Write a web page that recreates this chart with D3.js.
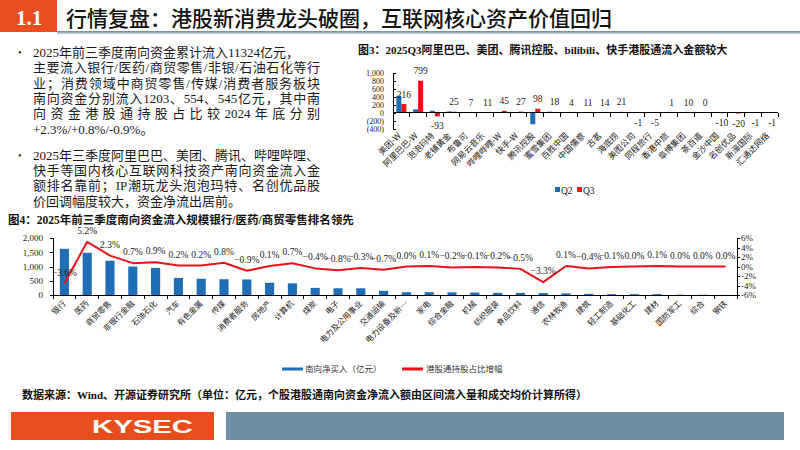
<!DOCTYPE html>
<html>
<head>
<meta charset="utf-8">
<script src="https://cdn.jsdelivr.net/npm/d3@7"></script>
<style>
	body { margin: 0; background: #fff; }
	svg text { font-family: "Liberation Serif", "Noto Sans CJK SC", serif; }
	.cjk { font-family: "Noto Sans CJK SC", sans-serif; }
	.axis path, .axis line { stroke: #000; shape-rendering: crispEdges; }
	.axis text { fill: #222; font-size: 9px; font-family: "Liberation Serif", serif; }
</style>
</head>
<body>
<svg id="slide" width="800" height="450"></svg>
<script>
/* Slide: southbound flows, figure 3 (Q2/Q3 stocks) and figure 4 (industries) */

// ---- figure 3 data ----
var fig3Cats = ["美团-W","阿里巴巴-W","泡泡玛特","老铺黄金","布鲁可","网易云音乐","哔哩哔哩-W","快手-W",
	"腾讯控股","蜜雪集团","百胜中国","中国儒意","古茗","海底捞","美图公司","同程旅行","香港中旅",
	"阜博集团","茶百道","金沙中国","名创优品","新濠国际","汇通达网络"];
var fig3Q2 = [425, 85, 50, 30, 15, 10, 5, 3, -290, 25, 15, 5, 3, 3, 3, 2, 2, 5, 5, 3, 0, 0, 0];
var fig3Q3 = [216, 799, -93, 25, 7, 11, 45, 27, 98, 18, 4, 11, 14, 21, -1, -5, 1, 10, 0, -10, -20, -1, -1];
var fig3Ticks = [-400, -200, 0, 200, 400, 600, 800, 1000];
var fig3Series = ["Q2", "Q3"];

// ---- figure 4 data ----
var fig4Cats = ["银行","医药","商贸零售","非银行金融","石油石化","汽车","有色金属","传媒","消费者服务",
	"房地产","计算机","煤炭","电子","电力及公用事业","交通运输","电力设备及新…","家电","综合金融","机械",
	"纺织服装","食品饮料","通信","农林牧渔","建筑","轻工制造","基础化工","建材","国防军工","综合","钢铁"];
var fig4Flow = [1620, 1480, 1203, 1000, 950, 600, 570, 554, 545, 430, 410, 250, 235, 235, 150,
	100, 100, 95, 85, 75, 75, 70, 55, 40, 30, 30, 30, 10, 8, 3];
var fig4Share = [-3.6, 5.2, 2.3, 0.7, 0.9, 0.2, 0.2, 0.8, -0.9, 0.1, 0.7, -0.4, -0.8, -0.3, -0.7,
	0.0, 0.1, -0.2, -0.1, -0.2, -0.5, -3.3, 0.1, -0.4, -0.1, 0.0, 0.1, 0.0, 0.0, 0.0];
var fig4LeftTicks = [0, 500, 1000, 1500, 2000];
var fig4RightTicks = [-6, -4, -2, 0, 2, 4, 6];

// ---- texts ----
var headerTitle = "行情复盘：港股新消费龙头破圈，互联网核心资产价值回归";
var para1 = ["2025年前三季度南向资金累计流入11324亿元，",
	"主要流入银行/医药/商贸零售/非银/石油石化等行",
	"业；消费领域中商贸零售/传媒/消费者服务板块",
	"南向资金分别流入1203、554、545亿元，其中南",
	"向资金港股通持股占比较2024年底分别",
	"+2.3%/+0.8%/-0.9%。"];
var para2 = ["2025年三季度阿里巴巴、美团、腾讯、哔哩哔哩、",
	"快手等国内核心互联网科技资产南向资金流入金",
	"额排名靠前；IP潮玩龙头泡泡玛特、名创优品股",
	"价回调幅度较大，资金净流出居前。"];

var blue = "#1f6eb6", red = "#e8141c", orange = "#e84e1b";

var svg = d3.select("#slide");

// gradient for header rule
var defs = svg.append("defs");
var grad = defs.append("linearGradient").attr("id", "rule").attr("x1", 0).attr("y1", 0).attr("x2", 0).attr("y2", 1);
grad.append("stop").attr("offset", "0%").attr("stop-color", "#6d8595");
grad.append("stop").attr("offset", "100%").attr("stop-color", "#cfd8de");

// ---- header ----
svg.append("rect").attr("x", 0).attr("y", 0).attr("width", 57).attr("height", 32).attr("fill", orange);
svg.append("text").attr("x", 29).attr("y", 25).attr("text-anchor", "middle")
	.attr("fill", "#fff").attr("font-size", 21).attr("font-weight", "bold").text("1.1");
svg.append("text").attr("class", "cjk").attr("x", 66).attr("y", 25.5)
	.attr("font-size", 21).attr("font-weight", 500).attr("fill", "#111").text(headerTitle);
svg.append("rect").attr("x", 57).attr("y", 31).attr("width", 743).attr("height", 3).attr("fill", "url(#rule)");

// Spread the tokens of one line evenly over the given width
function justifyLine(t, left, width) {
	var tokens = t.text().match(/[0-9A-Za-z.%+\-]+|[\s\S]/g);
	t.text(null);
	var spans = tokens.map(function(tok) { return t.append("tspan").text(tok); });
	var widths = spans.map(function(s) { return s.node().getComputedTextLength(); });
	var gap = (width - d3.sum(widths)) / (tokens.length - 1);
	var xPos = left;
	spans.forEach(function(s, i) {
		s.attr("x", xPos);
		xPos += widths[i] + gap;
	});
}

// ---- bullet paragraphs ----
function drawPara(lines, y0, step) {
	svg.append("text").attr("x", 18).attr("y", y0 - 1).attr("font-size", 10).attr("fill", "#222").text("•");
	lines.forEach(function(line, i) {
		var t = svg.append("text")
			.attr("x", 33)
			.attr("y", y0 + i * step)
			.attr("font-size", 13)
			.attr("fill", "#1a1a1a")
			.text(line);
		// justify every line but the first and the last
		if (i > 0 && i < lines.length - 1) {
			justifyLine(t, 33, 287);
		}
	});
}
drawPara(para1, 56.6, 15.45);
drawPara(para2, 160, 15.2);

// ================= figure 3 =================
svg.append("text").attr("x", 358).attr("y", 54.2).attr("font-size", 11).attr("font-weight", "bold")
	.attr("fill", "#111").text("图3：2025Q3阿里巴巴、美团、腾讯控股、bilibili、快手港股通流入金额较大");

var x3 = d3.scaleBand().domain(fig3Cats).range([393, 778]).paddingInner(0.4).paddingOuter(0.2);
var s3 = d3.scaleBand().domain(fig3Series).range([0, x3.bandwidth()]);
var y3 = d3.scaleLinear().domain([-400, 1000]).range([128.7, 72.7]);

// y axis
var y3Axis = svg.append("g")
	.attr("class", "axis")
	.attr("transform", "translate(393,0)")
	.call(d3.axisLeft(y3).tickValues(fig3Ticks).tickSize(-3).tickPadding(9)
		.tickFormat(function(d) { return d < 0 ? "(" + d3.format(",")(-d) + ")" : d3.format(",")(d); }));
y3Axis.selectAll("text")
	.style("font-size", "8px")
	.attr("fill", function(d) { return d < 0 ? "#e00" : "#222"; });

// bars
var rows3 = fig3Cats.map(function(c, i) { return {cat: c, Q2: fig3Q2[i], Q3: fig3Q3[i]}; });
var g3 = svg.selectAll(".g3").data(rows3).enter().append("g")
	.attr("transform", function(d) { return "translate(" + x3(d.cat) + ",0)"; });
g3.selectAll("rect")
	.data(function(d) { return fig3Series.map(function(k) { return {key: k, value: d[k]}; }); })
	.enter().append("rect")
	.attr("x", function(d) { return s3(d.key); })
	.attr("width", s3.bandwidth())
	.attr("y", function(d) { return y3(Math.max(0, d.value)); })
	.attr("height", function(d) { return Math.abs(y3(d.value) - y3(0)); })
	.attr("fill", function(d) { return d.key == "Q2" ? blue : red; });

// x axis at zero
svg.append("line").attr("x1", 393).attr("x2", 778).attr("y1", y3(0)).attr("y2", y3(0))
	.attr("stroke", "#000").attr("shape-rendering", "crispEdges");
svg.selectAll(".tick3").data(fig3Cats.concat(["end"])).enter().append("line")
	.attr("x1", function(d, i) { return 393 + x3.step() * (x3.paddingOuter() - x3.paddingInner() / 2) + i * x3.step(); })
	.attr("x2", function(d, i) { return 393 + x3.step() * (x3.paddingOuter() - x3.paddingInner() / 2) + i * x3.step(); })
	.attr("y1", y3(0)).attr("y2", y3(0) + 4)
	.attr("stroke", "#000").attr("shape-rendering", "crispEdges");

// value labels (Q3)
svg.selectAll(".lab3").data(rows3).enter().append("text")
	.attr("x", function(d) { return x3(d.cat) + s3("Q3") + s3.bandwidth() / 2; })
	.attr("y", function(d) { return d.Q3 < 0 ? y3(d.Q3) + 13 : y3(d.Q3) - 6.5; })
	.attr("text-anchor", "middle").attr("font-size", 9.5).attr("fill", "#222")
	.text(function(d) { return d.Q3; });

// category labels
svg.selectAll(".cat3").data(fig3Cats).enter().append("text")
	.attr("class", "cjk")
	.attr("transform", function(d) { return "translate(" + (x3(d) + x3.bandwidth() / 2 - 2) + ",134) rotate(-45)"; })
	.attr("text-anchor", "end").attr("dy", "0.35em")
	.attr("font-size", 8.5).attr("fill", "#222")
	.text(function(d) { return d; });

// legend
var leg3 = svg.selectAll(".leg3").data(fig3Series).enter().append("g")
	.attr("transform", function(d, i) { return "translate(" + (555 + i * 22) + ",190)"; });
leg3.append("rect").attr("x", 0).attr("y", -3).attr("width", 5).attr("height", 5)
	.attr("fill", function(d) { return d == "Q2" ? blue : red; });
leg3.append("text").attr("x", 6).attr("y", 3.5).attr("font-size", 9.5).attr("fill", "#222")
	.text(function(d) { return d; });

// ================= figure 4 =================
svg.append("text").attr("x", 8).attr("y", 224.4).attr("font-size", 11.5).attr("font-weight", "bold")
	.attr("fill", "#111").text("图4：2025年前三季度南向资金流入规模银行/医药/商贸零售排名领先");

var x4 = d3.scaleBand().domain(fig4Cats).range([53, 737]).paddingInner(0.6).paddingOuter(0.3);
var y4 = d3.scaleLinear().domain([0, 2000]).range([295, 238]);
var y4r = d3.scaleLinear().domain([-6, 6]).range([295, 238]);

// left axis
svg.append("g").attr("class", "axis").attr("transform", "translate(53,0)")
	.call(d3.axisLeft(y4).tickValues(fig4LeftTicks).tickSize(3).tickPadding(7).tickFormat(d3.format(",")));
// right axis
svg.append("g").attr("class", "axis").attr("transform", "translate(737,0)")
	.call(d3.axisRight(y4r).tickValues(fig4RightTicks).tickSize(3).tickPadding(1)
		.tickFormat(function(d) { return d + "%"; }));

// bars
svg.selectAll(".bar4").data(fig4Cats).enter().append("rect")
	.attr("x", function(d) { return x4(d); })
	.attr("width", x4.bandwidth())
	.attr("y", function(d, i) { return y4(fig4Flow[i]); })
	.attr("height", function(d, i) { return y4(0) - y4(fig4Flow[i]); })
	.attr("fill", blue);

// baseline and category ticks
svg.append("line").attr("x1", 53).attr("x2", 737).attr("y1", 295).attr("y2", 295)
	.attr("stroke", "#000").attr("shape-rendering", "crispEdges");
svg.selectAll(".tick4").data(fig4Cats.concat(["end"])).enter().append("line")
	.attr("x1", function(d, i) { return 53 + x4.step() * (x4.paddingOuter() - x4.paddingInner() / 2) + i * x4.step(); })
	.attr("x2", function(d, i) { return 53 + x4.step() * (x4.paddingOuter() - x4.paddingInner() / 2) + i * x4.step(); })
	.attr("y1", 295).attr("y2", 299)
	.attr("stroke", "#000").attr("shape-rendering", "crispEdges");

// share line
var line4 = d3.line()
	.x(function(d, i) { return x4(fig4Cats[i]) + x4.bandwidth() / 2; })
	.y(function(d) { return y4r(d); });
svg.append("path").datum(fig4Share)
	.attr("d", line4)
	.attr("fill", "none").attr("stroke", red).attr("stroke-width", 2).attr("stroke-linejoin", "round");

// line labels
svg.selectAll(".lab4").data(fig4Share).enter().append("text")
	.attr("x", function(d, i) { return x4(fig4Cats[i]) + x4.bandwidth() / 2; })
	.attr("y", function(d) { return y4r(d) - 8; })
	.attr("text-anchor", "middle").attr("font-size", 9.5).attr("fill", "#222")
	.text(function(d) { return d3.format(".1f")(d) + "%"; });

// category labels
svg.selectAll(".cat4").data(fig4Cats).enter().append("text")
	.attr("class", "cjk")
	.attr("transform", function(d) { return "translate(" + (x4(d) + x4.bandwidth() / 2) + ",302) rotate(-45)"; })
	.attr("text-anchor", "end").attr("dy", "0.35em")
	.attr("font-size", 8).attr("fill", "#222")
	.text(function(d) { return d; });

// legend
svg.append("rect").attr("x", 282).attr("y", 367.5).attr("width", 21).attr("height", 3).attr("fill", blue);
svg.append("text").attr("class", "cjk").attr("x", 305).attr("y", 372).attr("font-size", 8.5).attr("fill", "#333")
	.text("南向净买入（亿元）");
svg.append("rect").attr("x", 402).attr("y", 367.5).attr("width", 21).attr("height", 3).attr("fill", red);
svg.append("text").attr("class", "cjk").attr("x", 426).attr("y", 372).attr("font-size", 8.5).attr("fill", "#333")
	.text("港股通持股占比增幅");

// ---- source and footer ----
svg.append("text").attr("x", 22).attr("y", 399.2).attr("font-size", 11).attr("font-weight", "bold")
	.attr("fill", "#111")
	.text("数据来源：Wind、开源证券研究所（单位：亿元，个股港股通南向资金净流入额由区间流入量和成交均价计算所得）");

svg.append("rect").attr("x", 11).attr("y", 412).attr("width", 203).attr("height", 28).attr("fill", orange);
svg.append("rect").attr("x", 226).attr("y", 412).attr("width", 558).attr("height", 28).attr("fill", "#6f8fa3");
svg.append("text").attr("x", 92).attr("y", 432.5)
	.style("font-family", "Liberation Sans, Arial, sans-serif")
	.attr("font-size", 18).attr("font-weight", "bold").attr("fill", "#fff")
	.attr("textLength", 101).attr("lengthAdjust", "spacingAndGlyphs")
	.text("KYSEC");
</script>
</body>
</html>
